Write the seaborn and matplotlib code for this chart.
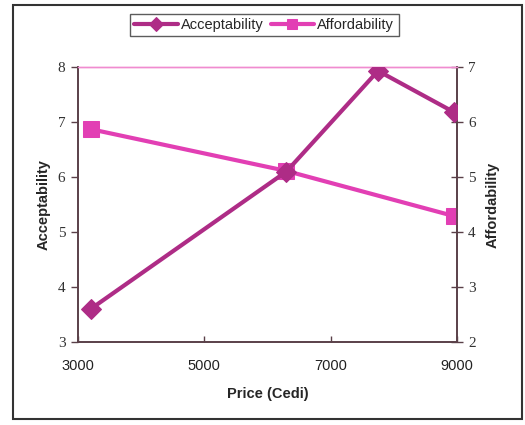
import matplotlib
matplotlib.use("Agg")
import matplotlib.pyplot as plt
import seaborn as sns
import pandas as pd
from matplotlib.patches import Rectangle

# Survey results by price point
price_accept = [3200, 6300, 7750, 8950]
acceptability = [3.6, 6.1, 7.93, 7.18]
price_afford = [3200, 6300, 8950]
affordability = [5.87, 5.11, 4.29]

x_ticks = [3000, 5000, 7000, 9000]
left_ticks = [3, 4, 5, 6, 7, 8]
right_ticks = [2, 3, 4, 5, 6, 7]

accept_color = "#AE2C86"
afford_color = "#E23FB4"
axis_color = "#5a4048"

sns.set_theme(style="white")
plt.rcParams["font.family"] = ["Liberation Sans", "DejaVu Sans"]

fig = plt.figure(figsize=(5.25, 4.25), dpi=100)
ax = fig.add_axes([78 / 525, 1 - 342 / 425, (457 - 78) / 525, (342 - 67) / 425])
ax2 = ax.twinx()

df_acc = pd.DataFrame({"Price": price_accept, "Acceptability": acceptability})
df_aff = pd.DataFrame({"Price": price_afford, "Affordability": affordability})

sns.lineplot(data=df_acc, x="Price", y="Acceptability", ax=ax, color=accept_color,
             marker="D", markersize=10, linewidth=3, markeredgecolor=accept_color,
             label="Acceptability", legend=False, zorder=3)
sns.lineplot(data=df_aff, x="Price", y="Affordability", ax=ax2, color=afford_color,
             marker="s", markersize=11, linewidth=3, markeredgecolor=afford_color,
             label="Affordability", legend=False, zorder=3)

ax.set_zorder(ax2.get_zorder() + 1)
ax.patch.set_visible(False)

ax.set_xlim(3000, 9000)
ax.set_ylim(3, 8)
ax2.set_ylim(2, 7)
ax.set_xticks(x_ticks)
ax.set_yticks(left_ticks)
ax2.set_yticks(right_ticks)

serif = ["Liberation Serif", "DejaVu Serif"]
ax.set_yticklabels([str(t) for t in left_ticks], family=serif, fontsize=11)
ax2.set_yticklabels([str(t) for t in right_ticks], family=serif, fontsize=11)
ax.set_xticklabels([str(t) for t in x_ticks], fontsize=10.5)

ax.set_xlabel("Price (Cedi)", fontsize=10.5, fontweight="bold", labelpad=10)
ax.set_ylabel("Acceptability", fontsize=10.5, fontweight="bold", labelpad=5)
ax2.set_ylabel("Affordability", fontsize=10.5, fontweight="bold", labelpad=7)

for a in (ax, ax2):
    for side in ("left", "right", "bottom"):
        a.spines[side].set_color(axis_color)
        a.spines[side].set_linewidth(1.2)
    a.spines["top"].set_color("#F08CD0")
    a.spines["top"].set_linewidth(1.0)

ax.tick_params(axis="y", direction="out", length=5, width=1, color=axis_color,
               left=True, pad=4, labelcolor="#333333")
ax.tick_params(axis="x", direction="in", length=4, width=1, color=axis_color,
               bottom=True, pad=12, labelcolor="#222222")
ax2.tick_params(axis="y", direction="inout", length=8, width=1, color=axis_color,
                right=True, pad=4, labelcolor="#333333")

h1, l1 = ax.get_legend_handles_labels()
h2, l2 = ax2.get_legend_handles_labels()
leg = fig.legend(h1 + h2, l1 + l2, loc="center", bbox_to_anchor=(264 / 525, 1 - 25 / 425),
                 ncol=2, frameon=True, fancybox=False, fontsize=10.5, handlelength=3.0,
                 handletextpad=0.2, columnspacing=0.5, borderpad=0.3,
                 edgecolor="#333333", markerscale=0.7)
leg.get_frame().set_linewidth(1.0)

# outer frame
fig.patches.append(Rectangle((13 / 525, 1 - 419 / 425), (522 - 13) / 525, (419 - 5) / 425,
                             transform=fig.transFigure, fill=False,
                             edgecolor="#333333", linewidth=1.5))

fig.savefig("out.png", dpi=100)
